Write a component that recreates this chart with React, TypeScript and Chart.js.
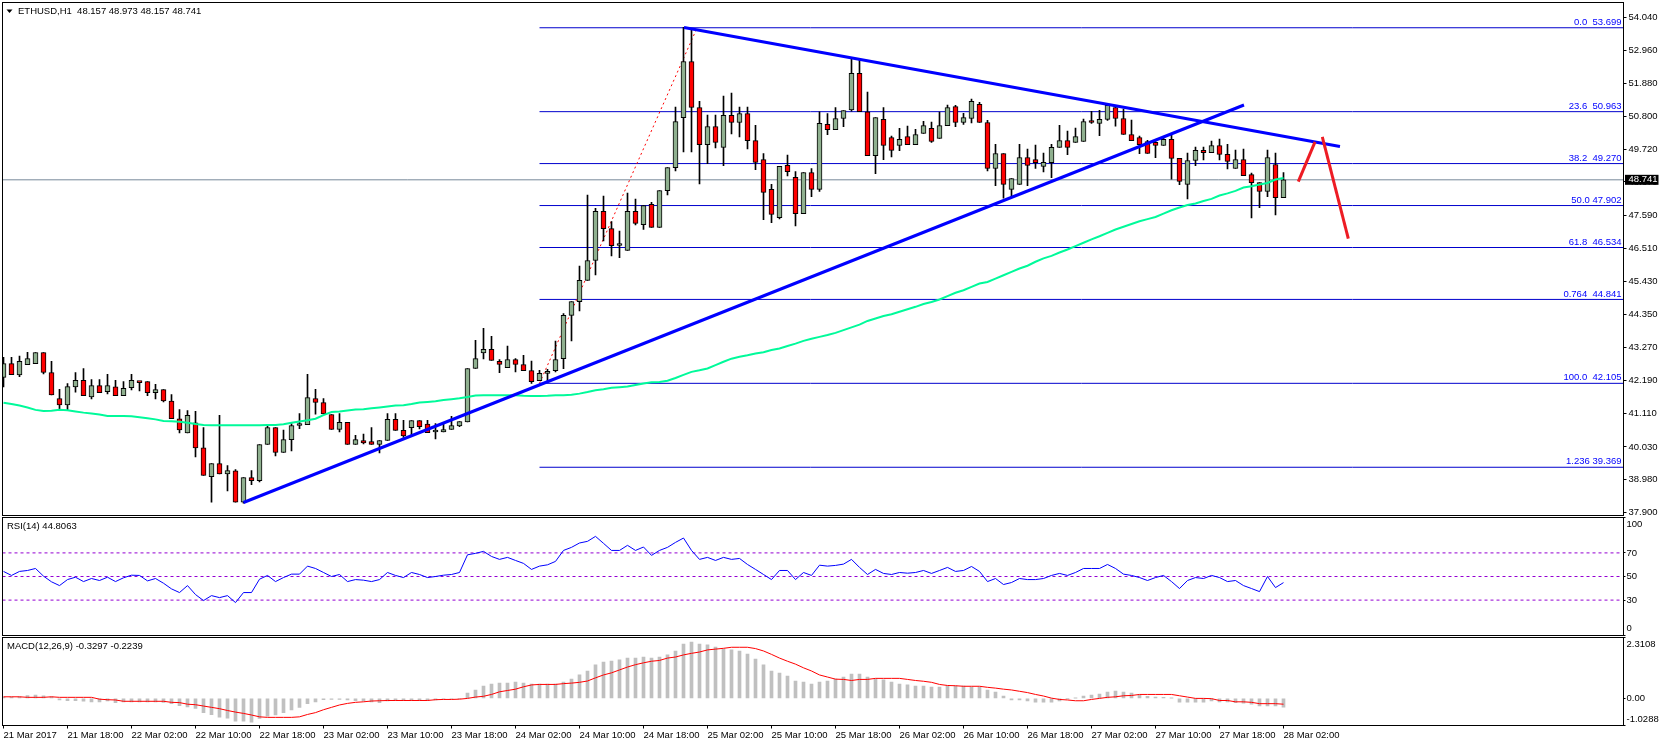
import { useEffect, useRef } from "react";
import { Chart, registerables } from "chart.js";

Chart.register(...registerables);

const WIDTH = 1663;
const HEIGHT = 746;
const FONT = '"Liberation Sans", sans-serif';
const FONT_SIZE = 9.5;

// hourly ETHUSD candles, oldest first
const OPENS = [
  42.30,42.75,42.38,42.71,42.75,43.11,42.46,41.61,41.40,41.99,
  42.20,41.66,42.03,41.83,41.99,41.70,41.96,42.15,42.16,41.80,
  41.90,41.53,40.95,40.49,40.82,40.00,39.06,39.49,39.15,39.25,
  38.23,39.03,38.93,40.11,40.66,39.85,40.27,40.73,40.76,41.61,
  41.48,41.09,40.60,40.83,40.11,40.24,40.21,40.11,40.24,40.93,
  40.57,40.66,40.89,40.78,40.52,40.52,40.60,40.72,40.85,42.59,
  43.10,43.21,42.82,42.62,42.88,42.72,42.52,42.19,42.43,42.52,
  42.91,44.32,44.77,45.46,46.11,47.71,47.15,46.60,46.44,47.71,
  47.28,47.94,47.19,48.39,49.14,50.77,52.60,51.10,49.89,50.48,
  49.80,50.84,50.61,50.90,50.02,49.40,48.43,47.51,49.21,48.82,
  47.64,48.98,48.43,50.55,50.38,50.74,51.02,52.21,50.96,49.53,
  50.71,50.12,49.86,50.15,49.89,50.25,50.42,50.09,50.51,51.13,
  50.61,50.74,51.20,50.61,49.11,49.60,48.43,48.59,49.47,49.40,
  49.18,49.30,49.80,50.02,49.96,49.99,50.63,50.58,50.71,51.10,
  50.74,50.22,50.12,49.99,49.96,49.86,50.06,49.44,48.59,49.37,
  49.70,49.63,49.86,49.57,49.11,49.40,48.91,48.65,48.36,49.24,
  48.157,
];
const HIGHS = [
  42.95,42.95,42.99,43.12,43.11,43.11,42.82,41.91,42.10,42.46,
  42.59,42.23,42.23,42.40,42.20,42.16,42.40,42.15,42.16,42.07,
  41.90,41.74,41.25,41.22,41.19,40.66,39.49,41.06,39.42,39.29,
  39.03,39.26,40.11,40.71,40.66,40.58,40.79,41.12,42.40,41.91,
  41.61,41.09,41.12,40.83,40.41,40.45,40.66,40.24,41.12,41.12,
  40.90,40.89,40.89,40.90,40.79,40.77,41.03,40.86,42.59,43.51,
  43.90,43.64,42.88,43.32,42.91,43.02,42.83,42.53,42.56,43.48,
  44.38,44.77,45.93,48.24,47.81,48.21,47.38,47.07,48.31,48.11,
  47.90,48.01,48.39,49.14,51.11,53.71,53.62,51.30,50.85,50.85,
  51.47,51.57,51.11,51.11,50.52,49.60,48.59,49.18,49.55,49.01,
  48.98,49.11,50.96,50.90,51.10,51.00,52.70,52.70,51.60,50.77,
  51.10,50.17,50.42,50.49,50.39,50.65,50.62,50.95,51.18,51.17,
  50.91,51.37,51.27,50.68,49.90,49.60,48.78,49.90,49.74,49.87,
  49.61,49.90,50.52,50.33,50.43,50.72,50.97,51.01,51.17,51.17,
  51.05,50.69,50.17,50.03,50.03,50.14,50.20,49.44,49.61,49.81,
  49.81,50.00,50.07,49.90,49.71,49.74,48.96,48.65,49.71,49.61,
  48.973,
];
const LOWS = [
  41.99,42.39,42.32,42.71,42.75,42.41,41.73,41.27,41.25,41.82,
  41.70,41.60,41.80,41.76,41.70,41.70,41.89,41.86,41.70,41.60,
  41.50,40.95,40.49,40.49,39.71,39.10,38.23,39.15,38.60,38.23,
  38.20,38.80,38.89,40.11,39.74,39.85,39.90,40.63,40.76,41.10,
  41.11,40.60,40.52,40.11,40.11,40.13,40.11,39.84,40.24,40.57,
  40.34,40.41,40.62,40.50,40.29,40.52,40.60,40.69,40.85,42.59,
  42.90,42.85,42.45,42.62,42.48,42.52,42.10,42.19,42.19,42.48,
  42.58,43.49,44.47,45.46,45.64,46.75,46.26,46.20,46.44,47.27,
  47.12,47.19,47.19,48.25,49.03,49.65,49.65,48.61,49.27,49.78,
  49.20,50.24,50.14,49.75,49.07,47.44,47.34,47.47,48.87,47.24,
  47.64,48.19,48.36,50.21,50.38,50.47,50.98,50.96,49.53,48.94,
  49.40,49.49,49.69,49.89,49.89,50.25,49.96,50.09,50.51,50.47,
  50.55,50.60,50.61,49.03,48.55,48.14,48.19,48.59,48.55,49.11,
  49.00,48.81,49.80,49.56,49.96,49.99,50.58,50.18,50.68,50.49,
  50.22,50.02,49.59,49.60,49.46,49.86,48.76,48.58,48.12,49.20,
  49.39,49.63,49.39,49.10,49.11,48.88,47.50,47.83,48.19,47.60,
  48.157,
];
const CLOSES = [
  42.75,42.39,42.82,42.91,43.11,42.46,41.73,41.40,42.00,42.20,
  41.70,42.03,41.80,42.03,41.70,41.94,42.20,42.13,41.80,41.90,
  41.53,40.95,40.59,41.06,40.00,39.10,39.49,39.15,39.26,38.23,
  39.03,38.93,40.11,40.66,39.85,40.27,40.73,40.76,41.64,41.48,
  41.11,40.60,40.83,40.11,40.27,40.16,40.11,40.24,40.93,40.57,
  40.39,40.89,40.69,40.50,40.52,40.60,40.73,40.86,42.59,42.91,
  43.21,42.85,42.72,42.88,42.72,42.52,42.16,42.43,42.49,42.88,
  44.32,44.77,45.46,46.11,47.71,47.15,46.59,46.60,47.71,47.32,
  47.90,47.19,48.39,49.14,50.64,52.60,51.10,49.89,50.48,49.96,
  50.84,50.61,50.90,50.02,49.31,48.33,47.61,49.18,49.01,47.64,
  48.98,48.43,50.58,50.38,50.74,51.00,52.21,50.96,49.53,50.77,
  49.86,49.70,50.06,49.89,50.22,50.51,49.99,50.51,51.10,50.61,
  50.77,51.30,50.61,49.11,49.60,48.59,48.78,49.47,49.21,49.30,
  49.31,49.80,50.02,49.80,50.15,50.64,50.61,50.71,51.17,50.74,
  50.22,50.02,49.89,49.60,49.86,50.06,49.44,48.69,49.37,49.70,
  49.63,49.86,49.57,49.34,49.40,48.88,48.65,48.36,49.47,48.16,
  48.741,
];
const MOVING_AVERAGE = [
  41.47,41.43,41.38,41.32,41.24,41.20,41.21,41.24,41.23,41.19,
  41.15,41.12,41.09,41.04,41.04,41.04,41.03,41.00,40.97,40.93,
  40.88,40.87,40.85,40.82,40.78,40.75,40.74,40.74,40.74,40.74,
  40.74,40.74,40.74,40.75,40.75,40.77,40.82,40.86,40.90,40.95,
  41.07,41.17,41.19,41.22,41.25,41.26,41.29,41.32,41.35,41.38,
  41.39,41.43,41.48,41.50,41.52,41.56,41.59,41.62,41.66,41.71,
  41.72,41.72,41.72,41.72,41.72,41.70,41.69,41.69,41.70,41.72,
  41.72,41.73,41.77,41.82,41.88,41.91,41.96,41.98,42.00,42.05,
  42.10,42.14,42.15,42.19,42.28,42.38,42.48,42.53,42.59,42.70,
  42.81,42.91,42.97,43.02,43.08,43.12,43.19,43.24,43.32,43.40,
  43.49,43.56,43.62,43.68,43.75,43.84,43.93,44.02,44.14,44.22,
  44.30,44.36,44.44,44.52,44.60,44.69,44.76,44.84,44.95,45.06,
  45.14,45.25,45.36,45.41,45.52,45.63,45.74,45.85,45.94,46.07,
  46.18,46.26,46.37,46.47,46.58,46.69,46.80,46.90,47.01,47.12,
  47.21,47.30,47.39,47.46,47.53,47.64,47.75,47.84,47.92,47.97,
  48.05,48.12,48.23,48.30,48.38,48.49,48.53,48.59,48.64,48.75,
  48.80,
];
const RSI = [
  54.3,50.9,54.3,55.1,56.8,50.3,45.5,42.3,47.4,49.4,
  45.7,48.3,46.6,49.4,45.7,48.9,51.1,50.9,46.3,48.3,
  44.3,39.5,36.4,42.3,34.7,29.6,33.8,32.1,33.8,27.9,
  36.4,36.4,47.7,50.9,45.7,49.1,52.0,52.0,58.8,56.8,
  53.4,50.0,51.7,45.7,47.4,46.9,45.7,47.4,53.4,50.9,
  49.1,53.4,51.7,49.1,50.0,51.1,51.7,53.4,68.4,69.6,
  71.3,67.0,64.5,66.2,63.6,61.1,56.0,58.8,59.9,62.8,
  72.1,74.7,78.4,79.8,84.0,78.1,72.1,72.1,76.4,72.1,
  75.0,67.9,72.1,74.7,78.9,82.6,72.1,64.5,66.2,63.6,
  66.2,64.5,65.3,60.2,56.0,51.7,47.4,55.1,55.1,47.4,
  53.4,50.9,59.6,58.8,59.4,60.5,64.5,57.7,51.7,56.0,
  52.6,51.7,53.4,52.8,53.4,55.1,52.6,55.1,57.7,54.3,
  55.1,58.5,54.3,45.7,48.3,43.2,44.9,48.3,47.4,47.4,
  48.3,50.9,52.6,50.9,53.4,56.8,56.8,56.8,60.2,56.8,
  52.0,50.9,49.1,46.6,49.1,50.9,45.7,39.8,46.6,49.1,
  48.3,50.9,49.1,45.7,46.6,42.3,39.8,37.2,50.0,40.6,
  44.81,
];
const MACD = [
  0.05,0.05,0.06,0.11,0.13,0.10,0.06,-0.06,-0.09,-0.09,
  -0.11,-0.13,-0.13,-0.10,-0.16,-0.13,-0.13,-0.13,-0.13,-0.13,
  -0.15,-0.20,-0.28,-0.32,-0.38,-0.54,-0.62,-0.71,-0.75,-0.86,
  -0.86,-0.90,-0.76,-0.67,-0.63,-0.54,-0.44,-0.34,-0.20,-0.13,
  -0.05,-0.04,-0.04,-0.06,-0.09,-0.10,-0.13,-0.16,-0.10,-0.09,
  -0.09,-0.09,-0.09,-0.09,-0.06,-0.03,-0.02,0.00,0.20,0.32,
  0.47,0.54,0.58,0.58,0.62,0.58,0.54,0.54,0.54,0.54,
  0.62,0.73,0.89,1.04,1.27,1.38,1.42,1.46,1.53,1.53,
  1.57,1.53,1.57,1.65,1.80,2.06,2.14,2.06,2.03,1.95,
  1.87,1.84,1.80,1.68,1.49,1.27,1.04,0.96,0.85,0.66,
  0.62,0.54,0.62,0.66,0.73,0.81,0.92,0.92,0.81,0.73,
  0.70,0.62,0.54,0.51,0.47,0.47,0.43,0.43,0.47,0.47,
  0.47,0.43,0.43,0.32,0.24,0.09,-0.06,-0.06,-0.10,-0.14,
  -0.14,-0.14,-0.10,-0.01,0.01,0.09,0.13,0.16,0.24,0.28,
  0.24,0.20,0.13,0.08,0.05,0.04,0.01,-0.14,-0.14,-0.14,
  -0.14,-0.10,-0.13,-0.13,-0.16,-0.18,-0.22,-0.29,-0.29,-0.29,
  -0.33,
];
const SIGNAL = [
  0.06,0.06,0.06,0.04,0.04,0.04,0.06,0.04,0.04,0.04,
  0.04,0.04,-0.03,-0.05,-0.06,-0.11,-0.11,-0.11,-0.11,-0.11,
  -0.11,-0.15,-0.16,-0.22,-0.24,-0.29,-0.34,-0.39,-0.46,-0.52,
  -0.57,-0.63,-0.70,-0.72,-0.72,-0.72,-0.72,-0.70,-0.61,-0.54,
  -0.43,-0.34,-0.25,-0.19,-0.15,-0.13,-0.10,-0.09,-0.08,-0.08,
  -0.08,-0.08,-0.08,-0.08,-0.05,-0.04,-0.04,-0.03,0.00,0.05,
  0.08,0.15,0.25,0.30,0.35,0.44,0.51,0.53,0.53,0.53,
  0.56,0.58,0.61,0.66,0.78,0.89,0.97,1.08,1.19,1.28,
  1.35,1.41,1.44,1.53,1.57,1.65,1.71,1.76,1.84,1.87,
  1.90,1.94,1.94,1.94,1.89,1.80,1.67,1.53,1.41,1.30,
  1.16,1.04,0.89,0.81,0.73,0.72,0.68,0.72,0.72,0.76,
  0.76,0.76,0.76,0.72,0.68,0.65,0.61,0.53,0.49,0.48,
  0.46,0.46,0.46,0.42,0.39,0.35,0.32,0.27,0.22,0.15,
  0.09,0.01,-0.04,-0.06,-0.09,-0.09,-0.04,0.00,0.04,0.06,
  0.10,0.11,0.15,0.15,0.15,0.15,0.15,0.10,0.05,0.00,
  0.00,-0.01,-0.08,-0.08,-0.13,-0.13,-0.15,-0.20,-0.20,-0.20,
  -0.22,
];

const PRICE_TICKS = [54.04,52.96,51.88,50.8,49.72,48.67,47.59,46.51,45.43,44.35,43.27,42.19,41.11,40.03,38.98,37.9];
const RSI_TICKS = [100,70,50,30,0];
const RSI_LEVELS = [70,50,30];
const MACD_TICKS = [2.3108,0,-1.0288];
const TIME_TICKS = [0,8,16,24,32,40,48,56,64,72,80,88,96,104,112,120,128,136,144,152,160];
const TIME_LABELS = [
  "21 Mar 2017","21 Mar 18:00","22 Mar 02:00","22 Mar 10:00","22 Mar 18:00","23 Mar 02:00","23 Mar 10:00",
  "23 Mar 18:00","24 Mar 02:00","24 Mar 10:00","24 Mar 18:00","25 Mar 02:00","25 Mar 10:00","25 Mar 18:00",
  "26 Mar 02:00","26 Mar 10:00","26 Mar 18:00","27 Mar 02:00","27 Mar 10:00","27 Mar 18:00","28 Mar 02:00",
];

const FIB_LEVELS = [53.699,50.963,49.27,47.902,46.534,44.841,42.105,39.369];
const FIB_TEXTS = ["0.0  53.699","23.6  50.963","38.2  49.270","50.0 47.902","61.8  46.534","0.764  44.841","100.0  42.105","1.236 39.369"];
const FIB_START = 67;
const LAST_PRICE = 48.741;

// drawn objects as [candle index, price]
const UP_TREND = [[30,38.22],[155.06,51.18]];
const DOWN_TREND = [[85.06,53.71],[167.06,49.83]];
const FIB_ANCHOR = [[67,42.105],[86.7,53.699]];
const ARROW_UP = [[161.85,48.68],[163.94,49.98]];
const ARROW_DOWN = [[164.85,50.14],[168.1,46.82]];

// one index step is 8px wide, the pane is 1621px wide
const X_MIN = -0.125;
const X_MAX = 202.5;

const xHidden = { type: "linear", display: false, min: X_MIN, max: X_MAX, offset: false, grid: { offset: false } };

function fixedAxis(width: number) {
  return (scale: any) => {
    scale.width = width;
    scale.paddingTop = 0;
    scale.paddingBottom = 0;
  };
}

const tickFont = { family: FONT, size: FONT_SIZE };

function line(points: number[][], color: string, width: number, order: number, dash: number[] = []) {
  return {
    type: "line",
    data: points.map(([x, y]) => ({ x, y })),
    borderColor: color,
    borderWidth: width,
    borderDash: dash,
    pointRadius: 0,
    tension: 0,
    order,
  };
}

function frame(draw: (ctx: CanvasRenderingContext2D, chart: any) => void) {
  return {
    id: "frame",
    afterDraw(chart: any) {
      const { ctx, chartArea: a } = chart;
      ctx.save();
      ctx.strokeStyle = "#000";
      ctx.lineWidth = 1;
      ctx.strokeRect(a.left, a.top, a.width, a.height);
      ctx.font = `${FONT_SIZE}px ${FONT}`;
      ctx.textBaseline = "middle";
      ctx.fillStyle = "#000";
      draw(ctx, chart);
      ctx.restore();
    },
  };
}

const baseOptions = {
  responsive: false,
  devicePixelRatio: 1,
  animation: false,
  events: [],
};
const noPlugins = { legend: { display: false }, tooltip: { enabled: false } };

function priceConfig() {
  const ends = [X_MIN, X_MAX];
  return {
    type: "bar",
    data: {
      datasets: [
        ...FIB_LEVELS.map((v) => line([[FIB_START, v], [X_MAX, v]], "#0000cd", 1, 60)),
        line(ends.map((x) => [x, LAST_PRICE]), "#778899", 1, 55),
        line(FIB_ANCHOR, "#ff0000", 1, 50, [2, 3]),
        {
          data: HIGHS.map((h, i) => ({ x: i, y: [LOWS[i], h] })),
          backgroundColor: "#000",
          barThickness: 1,
          grouped: false,
          order: 40,
        },
        {
          data: OPENS.map((o, i) => ({ x: i, y: [o, CLOSES[i]] })),
          backgroundColor: OPENS.map((o, i) => (CLOSES[i] >= o ? "#8fb08f" : "#ff0000")),
          borderColor: "#000",
          borderWidth: 1,
          borderSkipped: false,
          barThickness: 5,
          minBarLength: 2,
          grouped: false,
          order: 30,
        },
        line(MOVING_AVERAGE.map((v, i) => [i, v]), "#00fa9a", 2, 20),
        line(UP_TREND, "#0000ff", 3, 10),
        line(DOWN_TREND, "#0000ff", 3, 10),
        line(ARROW_UP, "#ed1c24", 3, 5),
        line(ARROW_DOWN, "#ed1c24", 3, 5),
      ],
    },
    options: {
      ...baseOptions,
      layout: { padding: { left: 2.5, top: 2.5, bottom: 230.5, right: 0 } },
      plugins: noPlugins,
      scales: {
        x: xHidden,
        y: {
          position: "right",
          min: 37.796,
          max: 54.5225,
          afterBuildTicks: (s: any) => { s.ticks = PRICE_TICKS.map((value) => ({ value })); },
          afterFit: fixedAxis(39.5),
          border: { display: false },
          grid: { drawOnChartArea: false, tickLength: 3, color: "#000" },
          ticks: { color: "#000", font: tickFont, padding: 2, autoSkip: false, callback: (v: number) => v.toFixed(3) },
        },
      },
    },
    plugins: [
      frame((ctx, chart) => {
        const a = chart.chartArea;
        const y = chart.scales.y;
        ctx.beginPath();
        ctx.moveTo(6.5, 9.5);
        ctx.lineTo(12.5, 9.5);
        ctx.lineTo(9.5, 13);
        ctx.closePath();
        ctx.fill();
        ctx.fillText("ETHUSD,H1  48.157 48.973 48.157 48.741", 18, 11);
        ctx.fillStyle = "#0000ff";
        ctx.textAlign = "right";
        FIB_LEVELS.forEach((v, i) => ctx.fillText(FIB_TEXTS[i], a.right - 2, y.getPixelForValue(v) - 5.5));
        const py = y.getPixelForValue(LAST_PRICE);
        ctx.fillStyle = "#000";
        ctx.fillRect(a.right + 1.5, py - 5, 33.5, 10);
        ctx.fillStyle = "#fff";
        ctx.textAlign = "left";
        ctx.fillText(LAST_PRICE.toFixed(3), a.right + 5, py);
      }),
    ],
  };
}

function rsiConfig() {
  return {
    type: "line",
    data: {
      datasets: [
        ...RSI_LEVELS.map((v) => line([[X_MIN, v], [X_MAX - 0.2, v]], "#9400d3", 1, 20, [3, 3])),
        line(RSI.map((v, i) => [i, v]), "#0000ff", 1, 10),
      ],
    },
    options: {
      ...baseOptions,
      layout: { padding: { left: 2.5, top: 517.5, bottom: 110.5, right: 0 } },
      plugins: noPlugins,
      scales: {
        x: xHidden,
        y: {
          position: "right",
          min: 0,
          max: 100,
          afterBuildTicks: (s: any) => { s.ticks = RSI_TICKS.map((value) => ({ value })); },
          afterFit: fixedAxis(39.5),
          border: { display: false },
          grid: { drawOnChartArea: false, tickLength: 2, color: "#000" },
          ticks: {
            color: "#000",
            font: tickFont,
            padding: 1,
            autoSkip: false,
            callback: (v: number) => (v === 100 || v === 0 ? "" : String(v)),
          },
        },
      },
    },
    plugins: [
      frame((ctx, chart) => {
        const a = chart.chartArea;
        ctx.fillText("RSI(14) 44.8063", 7, 526.5);
        ctx.fillText("100", a.right + 3, a.top + 7);
        ctx.fillText("0", a.right + 3, a.bottom - 7.5);
      }),
    ],
  };
}

function macdConfig() {
  return {
    type: "bar",
    data: {
      datasets: [
        {
          data: MACD.map((v, i) => ({ x: i, y: v })),
          backgroundColor: "#c0c0c0",
          barThickness: 3,
          grouped: false,
          order: 20,
        },
        line(SIGNAL.map((v, i) => [i, v]), "#ff0000", 1, 10),
      ],
    },
    options: {
      ...baseOptions,
      layout: { padding: { left: 2.5, top: 637.5, bottom: 0, right: 0 } },
      plugins: noPlugins,
      scales: {
        x: {
          type: "linear",
          min: X_MIN,
          max: X_MAX,
          offset: false,
          afterBuildTicks: (s: any) => { s.ticks = TIME_TICKS.map((value) => ({ value })); },
          afterFit: (s: any) => {
            s.height = 20.5;
            s.paddingLeft = 0;
            s.paddingRight = 0;
          },
          border: { display: false },
          grid: { offset: false, drawOnChartArea: false, tickLength: 3, color: "#000" },
          ticks: {
            color: "#000",
            font: tickFont,
            padding: 1,
            align: "start",
            autoSkip: false,
            maxRotation: 0,
            minRotation: 0,
            callback: (v: number) => TIME_LABELS[TIME_TICKS.indexOf(v)],
          },
        },
        y: {
          position: "right",
          min: -1.0288,
          max: 2.3108,
          afterBuildTicks: (s: any) => { s.ticks = MACD_TICKS.map((value) => ({ value })); },
          afterFit: fixedAxis(39.5),
          border: { display: false },
          grid: { drawOnChartArea: false, tickLength: 2, color: "#000" },
          ticks: {
            color: "#000",
            font: tickFont,
            padding: 1,
            autoSkip: false,
            callback: (v: number) => (v === 0 ? "0.00" : ""),
          },
        },
      },
    },
    plugins: [
      frame((ctx, chart) => {
        const a = chart.chartArea;
        ctx.fillText("MACD(12,26,9) -0.3297 -0.2239", 7, 646.5);
        ctx.fillText(MACD_TICKS[0].toFixed(4), a.right + 3, a.top + 7);
        ctx.fillText(MACD_TICKS[2].toFixed(4), a.right + 3, a.bottom - 6.5);
      }),
    ],
  };
}

function Pane({ build }: { build: () => any }) {
  const ref = useRef<HTMLCanvasElement>(null);

  useEffect(() => {
    if (!ref.current) return;
    const chart = new Chart(ref.current, build());
    return () => chart.destroy();
  }, [build]);

  return (
    <canvas
      ref={ref}
      width={WIDTH}
      height={HEIGHT}
      style={{ position: "absolute", left: 0, top: 0, width: WIDTH, height: HEIGHT }}
    />
  );
}

export default function App() {
  return (
    <div style={{ position: "absolute", left: 0, top: 0, width: WIDTH, height: HEIGHT, background: "#fff", overflow: "hidden" }}>
      <Pane build={priceConfig} />
      <Pane build={rsiConfig} />
      <Pane build={macdConfig} />
    </div>
  );
}
